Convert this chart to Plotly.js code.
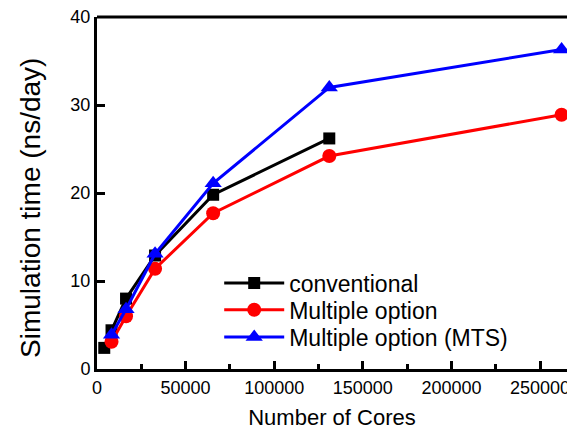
<!DOCTYPE html>
<html><head><meta charset="utf-8">
<script src="https://cdn.plot.ly/plotly-3.0.1.min.js"></script>
<style>html,body{margin:0;padding:0;background:#fff}#c{width:567px;height:430px}</style>
</head><body><div id="c"></div>
<script>
const coresConv = [4096, 8192, 16384, 32768, 65536, 131072];
const conventional = [2.4, 4.4, 8.0, 12.9, 19.8, 26.2];
const coresMulti = [8192, 16384, 32768, 65536, 131072, 262144];
const multiple = [3.1, 6.0, 11.4, 17.7, 24.2, 28.9];
const multipleMTS = [3.9, 6.8, 13.1, 21.1, 32.0, 36.3];
const names = ['conventional', 'Multiple option', 'Multiple option (MTS)'];
const xTicks = [0, 50000, 100000, 150000, 200000, 250000];
const yTicks = [0, 10, 20, 30, 40];

const traces = [
  {x: coresConv, y: conventional, name: names[0], mode: 'lines+markers', legend: 'legend',
   line: {color: '#000000', width: 3}, marker: {symbol: 'square', size: 12, color: '#000000'}},
  {x: coresMulti, y: multiple, name: names[1], mode: 'lines+markers', legend: 'legend2',
   line: {color: '#ff0000', width: 3}, marker: {symbol: 'circle', size: 14, color: '#ff0000'}},
  {x: coresMulti, y: multipleMTS, name: names[2], mode: 'lines+markers', legend: 'legend3',
   line: {color: '#0000ff', width: 3}, marker: {symbol: 'triangle-up', size: 15, color: '#0000ff'}}
];
const legBase = {x: 0.26, xanchor: 'left', yanchor: 'middle', bgcolor: 'rgba(0,0,0,0)',
                 font: {size: 23, color: '#000'}, itemwidth: 60};
const layout = {
  width: 567, height: 430,
  margin: {l: 97, r: 0, t: 17, b: 61},
  paper_bgcolor: '#fff', plot_bgcolor: '#fff',
  font: {family: 'Liberation Sans, Arial, sans-serif', color: '#000'},
  showlegend: true,
  legend: Object.assign({}, legBase, {y: 0.244}),
  legend2: Object.assign({}, legBase, {y: 0.168}),
  legend3: Object.assign({}, legBase, {y: 0.091}),
  xaxis: {range: [0, 265200], tickvals: xTicks, ticktext: xTicks.map(String),
          ticklabeloverflow: 'allow',
          ticks: 'inside', ticklen: 8, tickwidth: 3, tickcolor: '#000',
          minor: {tickvals: [25000, 75000, 125000, 175000, 225000], ticks: 'inside', ticklen: 5, tickwidth: 3, tickcolor: '#000'},
          showline: true, linewidth: 3, linecolor: '#000', showgrid: false, zeroline: false,
          tickfont: {size: 18}, title: {text: 'Number of Cores', font: {size: 22}, standoff: 16}},
  yaxis: {range: [0, 40], tickvals: yTicks,
          ticks: 'inside', ticklen: 8, tickwidth: 3, tickcolor: '#000',
          showline: true, linewidth: 3, linecolor: '#000', showgrid: false, zeroline: false,
          tickfont: {size: 18}},
  annotations: [{text: 'Simulation time (ns/day)', xref: 'paper', yref: 'paper',
                 x: -0.143, y: 0.457, xanchor: 'center', yanchor: 'middle', textangle: -90,
                 showarrow: false, font: {size: 28, color: '#000'}}],
  shapes: [{type: 'line', xref: 'paper', yref: 'paper', x0: 0, x1: 1, y0: 1, y1: 1,
            line: {color: '#000', width: 3}}]
};
Plotly.newPlot('c', traces, layout, {displayModeBar: false, staticPlot: true});
</script></body></html>
